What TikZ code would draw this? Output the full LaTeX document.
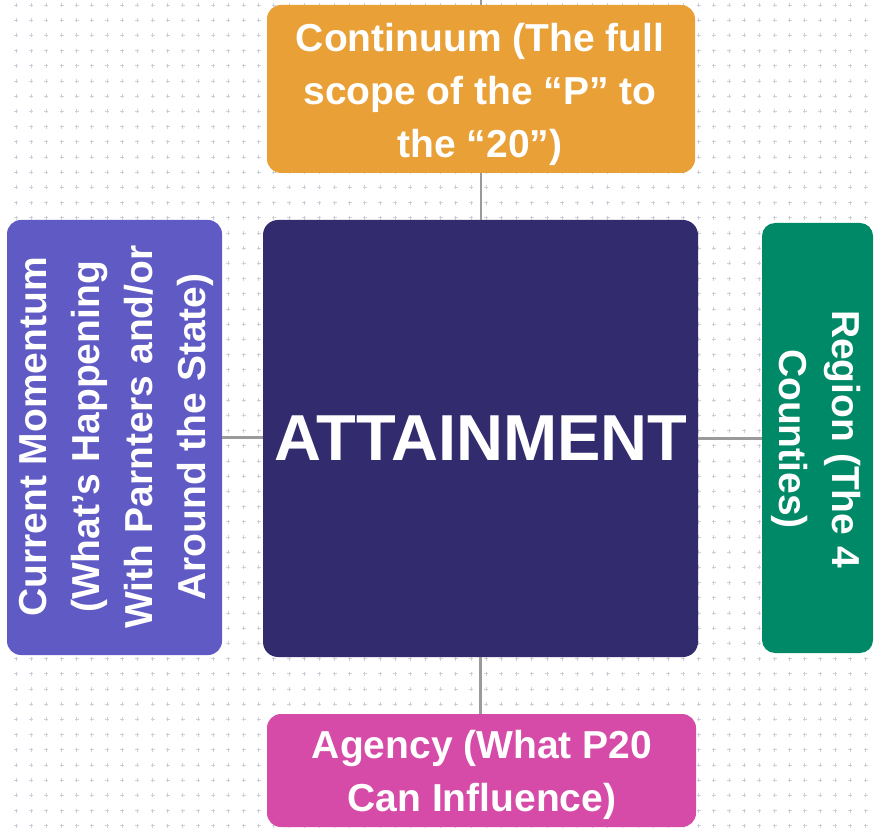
\documentclass[tikz,border=0pt]{standalone}
\usepackage{fontspec}
\setmainfont{Liberation Sans}
\definecolor{cOrange}{HTML}{E9A036}
\definecolor{cNavy}{HTML}{322C6E}
\definecolor{cPurple}{HTML}{605AC5}
\definecolor{cGreen}{HTML}{008966}
\definecolor{cPink}{HTML}{D64BA8}
\definecolor{cLine}{HTML}{9A9A9A}
\definecolor{cDot}{HTML}{CDCFDB}
\tikzset{
  box/.style={rounded corners=14pt, inner sep=0pt, draw=none},
  conn/.style={draw=cLine, line width=2.5pt},
  lbl/.style={text=white, font=\fontsize{39}{53}\selectfont\bfseries, align=center, inner sep=0pt, text depth=0pt},
  dotmark/.style={draw=cDot, line width=0.9pt}
}
\begin{document}
\begin{tikzpicture}[x=1pt,y=1pt]
\useasboundingbox (0,0) rectangle (875,828);
\fill[white] (0,0) rectangle (875,828);
% background grid of small crosses
\draw[dotmark] \foreach \i in {0,...,56} { \foreach \j in {0,...,54} {
  ({16+15.17*\i-2},{823-15.2*\j}) -- ({16+15.17*\i+2},{823-15.2*\j})
  ({16+15.17*\i},{823-15.2*\j-2}) -- ({16+15.17*\i},{823-15.2*\j+2}) } };
% boxes
\node[box, fill=cOrange, minimum width=428pt, minimum height=168pt] (top) at (481,739) {};
\node[box, fill=cNavy, minimum width=435pt, minimum height=437pt, rounded corners=15pt] (core) at (480.5,389.5) {};
\node[box, fill=cPurple, minimum width=215pt, minimum height=435pt] (left) at (114.5,390.5) {};
\node[box, fill=cGreen, minimum width=111pt, minimum height=430pt, rounded corners=13pt] (right) at (817.5,390) {};
\node[box, fill=cPink, minimum width=429pt, minimum height=113pt] (bottom) at (481.5,57.5) {};
% connectors
\coordinate (topend) at (481,828);
\draw[conn] (top.north) -- (topend);
\draw[conn] (top.south) -- (top.south |- core.north);
\draw[conn] (left.east) -- (left.east -| core.west);
\draw[conn] (core.east) -- (core.east -| right.west);
\draw[conn] (core.south) -- (core.south |- bottom.north);
% labels
\node[lbl, text height=134pt] (toptxt) at (480,737.5) {Continuum (The full\\scope of the “P” to\\the “20”)};
\node[text=white, font=\fontsize{65}{70}\selectfont\bfseries, inner sep=0pt, text height=46.5pt, text depth=0pt] (coretxt) at (481,390.5) {ATTAINMENT};
\node[lbl, text height=187pt, rotate=90] (lefttxt) at (112,391) {Current Momentum\\(What’s Happening\\With Parnters and/or\\Around the State)};
\node[lbl, text height=81pt, rotate=-90] (righttxt) at (819.5,389) {Region (The 4\\Counties)};
\node[lbl, text height=81pt] (bottomtxt) at (482,57) {Agency (What P20\\Can Influence)};
\end{tikzpicture}
\end{document}
